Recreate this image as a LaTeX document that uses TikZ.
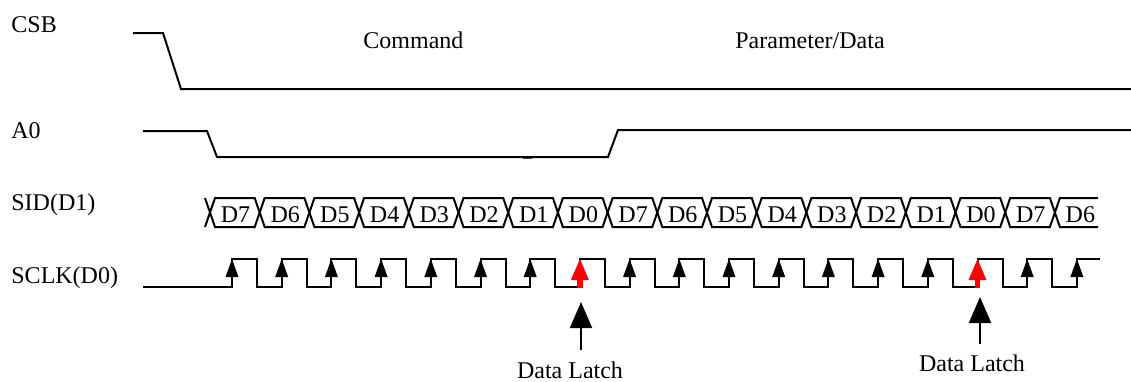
\documentclass[tikz,border=0pt]{standalone}
\usepackage{fontspec}
\setmainfont{Liberation Serif}
\usetikzlibrary{arrows.meta}
\begin{document}
\begin{tikzpicture}[x=0.5pt,y=-0.5pt,
  sig/.style={line width=1pt, line join=miter},
  txt/.style={inner sep=0pt, font=\fontsize{12}{14}\selectfont},
  lbl/.style={txt, anchor=base west},
  bit/.style={txt, anchor=base},
  tipblack/.style={fill=black},
  tipred/.style={fill=red},
  latch/.style={line width=1pt, -{Triangle[length=13pt,width=11pt]}}]
\useasboundingbox (0,0) rectangle (1131,381);
% signal names
\node[lbl] (csb) at (11,32) {CSB};
\node[lbl] (a0) at (11,138) {A0};
\node[lbl] (sid) at (11,210) {SID(D1)};
\node[lbl] (sclk) at (11,283) {SCLK(D0)};
\node[lbl] (cmd) at (363,48) {Command};
\node[lbl] (par) at (735,48) {Parameter/Data};
% CSB
\draw[sig] (133,33) -- (163,33) -- (181,89) -- (1131,89);
% A0
\draw[sig] (143,131) -- (207,131) -- (217,157) -- (608,157) -- (618,130) -- (1131,130);
\draw[line width=0.8pt, black!75] (523,158.6) -- (532,158.6);
% SID cells
\def\w{49.7}
\draw[sig] (205,198) -- (210,212.5) -- (205,227);
\foreach \i in {0,...,16} {
  \draw[sig] ({210+\w*\i},212.5) -- ({215+\w*\i},198) -- ({210+\w*(\i+1)-5},198)
    -- ({210+\w*(\i+1)},212.5) -- ({210+\w*(\i+1)-5},227) -- ({215+\w*\i},227) -- cycle;
}
\draw[sig] (1098,198) -- ({215+\w*17},198) -- ({210+\w*17},212.5) -- ({215+\w*17},227) -- (1098,227);
\foreach \t [count=\k from 0] in {D7,D6,D5,D4,D3,D2,D1,D0,D7,D6,D5,D4,D3,D2,D1,D0,D7,D6} {
  \node[bit] (d\k) at ({210+\w*\k+25.5},222) {\t};
}
% SCLK
\draw[sig] (143,287) \foreach \i in {0,...,16} {
   -- ({232+\w*\i},287) -- ({232+\w*\i},259) -- ({257+\w*\i},259) -- ({257+\w*\i},287) }
   -- ({232+\w*17},287) -- ({232+\w*17},259) -- (1100,259);
\foreach \i in {0,...,6,8,9,...,14,16,17} {
  \fill[tipblack] ({232+\w*\i-6.5},277) -- ({232+\w*\i+6.5},277) -- ({232+\w*\i},259) -- cycle;
}
\foreach \i in {7,15} {
  \fill[tipred] ({232+\w*\i-9},280) -- ({232+\w*\i+9},280) -- ({232+\w*\i},259) -- cycle;
  \fill[tipred] ({232+\w*\i-2.7},279) rectangle ({232+\w*\i+2.7},288);
}
% Data latch markers
\node[bit] (dl1) at (570,378) {Data Latch};
\node[bit] (dl2) at (972,371) {Data Latch};
\coordinate (t1) at (581,302);
\coordinate (s1) at (581,350);
\coordinate (t2) at (980,297);
\coordinate (s2) at (980,344);
\draw[latch] (s1) -- (t1);
\draw[latch] (s2) -- (t2);
\end{tikzpicture}
\end{document}
